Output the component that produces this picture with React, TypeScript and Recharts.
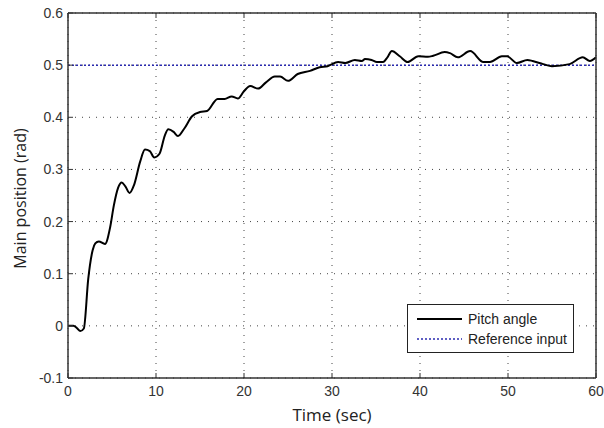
import React from "react";
import {
  LineChart,
  Line,
  XAxis,
  YAxis,
  CartesianGrid,
} from "recharts";

const times = [
  0, 0.6, 1.0, 1.4, 1.8, 2.3, 2.8, 3.1, 3.5, 4.2, 4.8, 5.2, 5.7, 6.1, 6.5, 7.0,
  7.5, 8.2, 8.75, 9.3, 9.8, 10.4, 11.0, 11.4, 12.0, 12.5, 13.2, 14.1, 15.0,
  15.8, 17.0, 17.8, 18.6, 19.3, 20.0, 20.7, 21.6, 22.5, 23.5, 24.1, 25.0, 26.1,
  27.5, 28.6, 29.5, 30.7, 31.5, 32.6, 33.4, 33.75, 34.5, 35.1, 35.8, 36.3,
  36.8, 37.7, 38.6, 39.8, 40.9, 41.5, 42.8, 43.4, 44.3, 45.7, 47.2, 47.95,
  49.3, 49.9, 51.0, 52.2, 52.8, 54.0, 55.0, 57.0, 58.5, 59.3, 60,
];

const pitchAngle = [
  0, 0, -0.004, -0.01, -0.005, 0.09, 0.145, 0.158, 0.162, 0.157, 0.19, 0.23,
  0.265, 0.275, 0.268, 0.255, 0.27, 0.315, 0.338, 0.335, 0.323, 0.33, 0.365,
  0.377, 0.372, 0.364, 0.378, 0.402, 0.41, 0.412, 0.435, 0.435, 0.44, 0.436,
  0.45, 0.46, 0.455, 0.467, 0.478, 0.478, 0.47, 0.483, 0.489, 0.496, 0.498,
  0.506, 0.504, 0.51, 0.508, 0.512, 0.51, 0.506, 0.506, 0.515, 0.527, 0.517,
  0.506, 0.517, 0.516, 0.518, 0.525, 0.523, 0.515, 0.527, 0.506, 0.506, 0.517,
  0.517, 0.504, 0.51, 0.508, 0.502, 0.498, 0.502, 0.515, 0.508, 0.515,
];

const referenceInput = 0.5;

const xTicks = [0, 10, 20, 30, 40, 50, 60];
const yTicks = [-0.1, 0, 0.1, 0.2, 0.3, 0.4, 0.5, 0.6];

const seriesNames = ["Pitch angle", "Reference input"];

const data = times.map((t, i) => ({
  t,
  pitch: pitchAngle[i],
  ref: referenceInput,
}));

const AXIS = "#333";
const REF_COLOR = "#2a2ab0";
const TICK_FONT = "'Liberation Sans', Arial, sans-serif";
const TITLE_FONT = "'Open Sans', 'Noto Sans', sans-serif";

const fmtY = (v: number) => (Math.abs(v) < 1e-9 ? "0" : v.toFixed(1));

const BottomTick = (props: any) => {
  const { x, y, payload } = props;
  return (
    <g>
      <line x1={x} y1={y} x2={x} y2={y - 5} stroke={AXIS} strokeWidth={1} />
      <text
        x={x}
        y={y + 18}
        textAnchor="middle"
        fontSize={14}
        fill="#333"
        fontFamily={TICK_FONT}
      >
        {payload.value}
      </text>
    </g>
  );
};

const TopTick = (props: any) => {
  const { x, y } = props;
  return <line x1={x} y1={y} x2={x} y2={y + 5} stroke={AXIS} strokeWidth={1} />;
};

const LeftTick = (props: any) => {
  const { x, y, payload } = props;
  return (
    <g>
      <line x1={x} y1={y} x2={x + 5} y2={y} stroke={AXIS} strokeWidth={1} />
      <text
        x={x - 5}
        y={y + 5}
        textAnchor="end"
        fontSize={14}
        fill="#333"
        fontFamily={TICK_FONT}
      >
        {fmtY(payload.value)}
      </text>
    </g>
  );
};

const RightTick = (props: any) => {
  const { x, y } = props;
  return <line x1={x} y1={y} x2={x - 5} y2={y} stroke={AXIS} strokeWidth={1} />;
};

const LegendBox = () => (
  <div
    style={{
      position: "absolute",
      left: 407,
      top: 304,
      width: 167,
      height: 49,
      border: "1px solid #222",
      background: "#fff",
      fontFamily: TICK_FONT,
      fontSize: 14,
      color: "#222",
      boxSizing: "border-box",
      paddingLeft: 9,
      paddingTop: 4,
      lineHeight: "normal",
      whiteSpace: "nowrap",
    }}
  >
    <div style={{ display: "flex", alignItems: "center", height: 20 }}>
      <svg width={45} height={6} style={{ marginRight: 6 }}>
        <line x1={0} y1={3} x2={45} y2={3} stroke="#000" strokeWidth={2} />
      </svg>
      <span>{seriesNames[0]}</span>
    </div>
    <div style={{ display: "flex", alignItems: "center", height: 20 }}>
      <svg width={45} height={6} style={{ marginRight: 6 }}>
        <line
          x1={0}
          y1={3}
          x2={45}
          y2={3}
          stroke={REF_COLOR}
          strokeWidth={1.5}
          strokeDasharray="2 2"
        />
      </svg>
      <span>{seriesNames[1]}</span>
    </div>
  </div>
);

export default function App() {
  return (
    <div style={{ position: "relative", width: 604, height: 428, background: "#fff" }}>
      <style>{`html, body { margin: 0; padding: 0; overflow: hidden; }`}</style>
      <LineChart
        width={604}
        height={428}
        data={data}
        margin={{ top: 12, right: 7, bottom: 20, left: 18 }}
      >
        <CartesianGrid
          xAxisId="bottom"
          yAxisId="left"
          stroke="#444"
          strokeDasharray="1 6"
          strokeWidth={1}
        />
        <XAxis
          xAxisId="bottom"
          dataKey="t"
          type="number"
          domain={[0, 60]}
          ticks={xTicks}
          orientation="bottom"
          height={30}
          tickSize={0}
          tickMargin={0}
          tickLine={false}
          axisLine={{ stroke: AXIS, strokeWidth: 1.5 }}
          tick={<BottomTick />}
          interval={0}
          label={{
            value: "Time (sec)",
            position: "insideBottom",
            offset: -13,
            fill: "#222",
            fontSize: 17,
            fontFamily: TITLE_FONT,
          }}
        />
        <XAxis
          xAxisId="top"
          dataKey="t"
          type="number"
          domain={[0, 60]}
          ticks={xTicks}
          orientation="top"
          height={1}
          tickSize={0}
          tickMargin={0}
          tickLine={false}
          axisLine={{ stroke: AXIS, strokeWidth: 1.5 }}
          tick={<TopTick />}
          interval={0}
        />
        <YAxis
          yAxisId="left"
          type="number"
          domain={[-0.1, 0.6]}
          ticks={yTicks}
          orientation="left"
          width={50}
          tickSize={0}
          tickMargin={0}
          tickLine={false}
          axisLine={{ stroke: AXIS, strokeWidth: 1.5 }}
          tick={<LeftTick />}
          interval={0}
          label={{
            value: "Main position (rad)",
            angle: -90,
            position: "insideLeft",
            offset: 2,
            dy: 3,
            style: { textAnchor: "middle" },
            fill: "#222",
            fontSize: 16,
            fontFamily: TITLE_FONT,
          }}
        />
        <YAxis
          yAxisId="right"
          type="number"
          domain={[-0.1, 0.6]}
          ticks={yTicks}
          orientation="right"
          width={1}
          tickSize={0}
          tickMargin={0}
          tickLine={false}
          axisLine={{ stroke: AXIS, strokeWidth: 1.5 }}
          tick={<RightTick />}
          interval={0}
        />
        <Line
          xAxisId="bottom"
          yAxisId="left"
          type="linear"
          dataKey="ref"
          name={seriesNames[1]}
          stroke={REF_COLOR}
          strokeWidth={1.5}
          strokeDasharray="2 2"
          dot={false}
          isAnimationActive={false}
        />
        <Line
          xAxisId="bottom"
          yAxisId="left"
          type="monotone"
          dataKey="pitch"
          name={seriesNames[0]}
          stroke="#000"
          strokeWidth={2}
          dot={false}
          isAnimationActive={false}
        />
      </LineChart>
      <LegendBox />
    </div>
  );
}
